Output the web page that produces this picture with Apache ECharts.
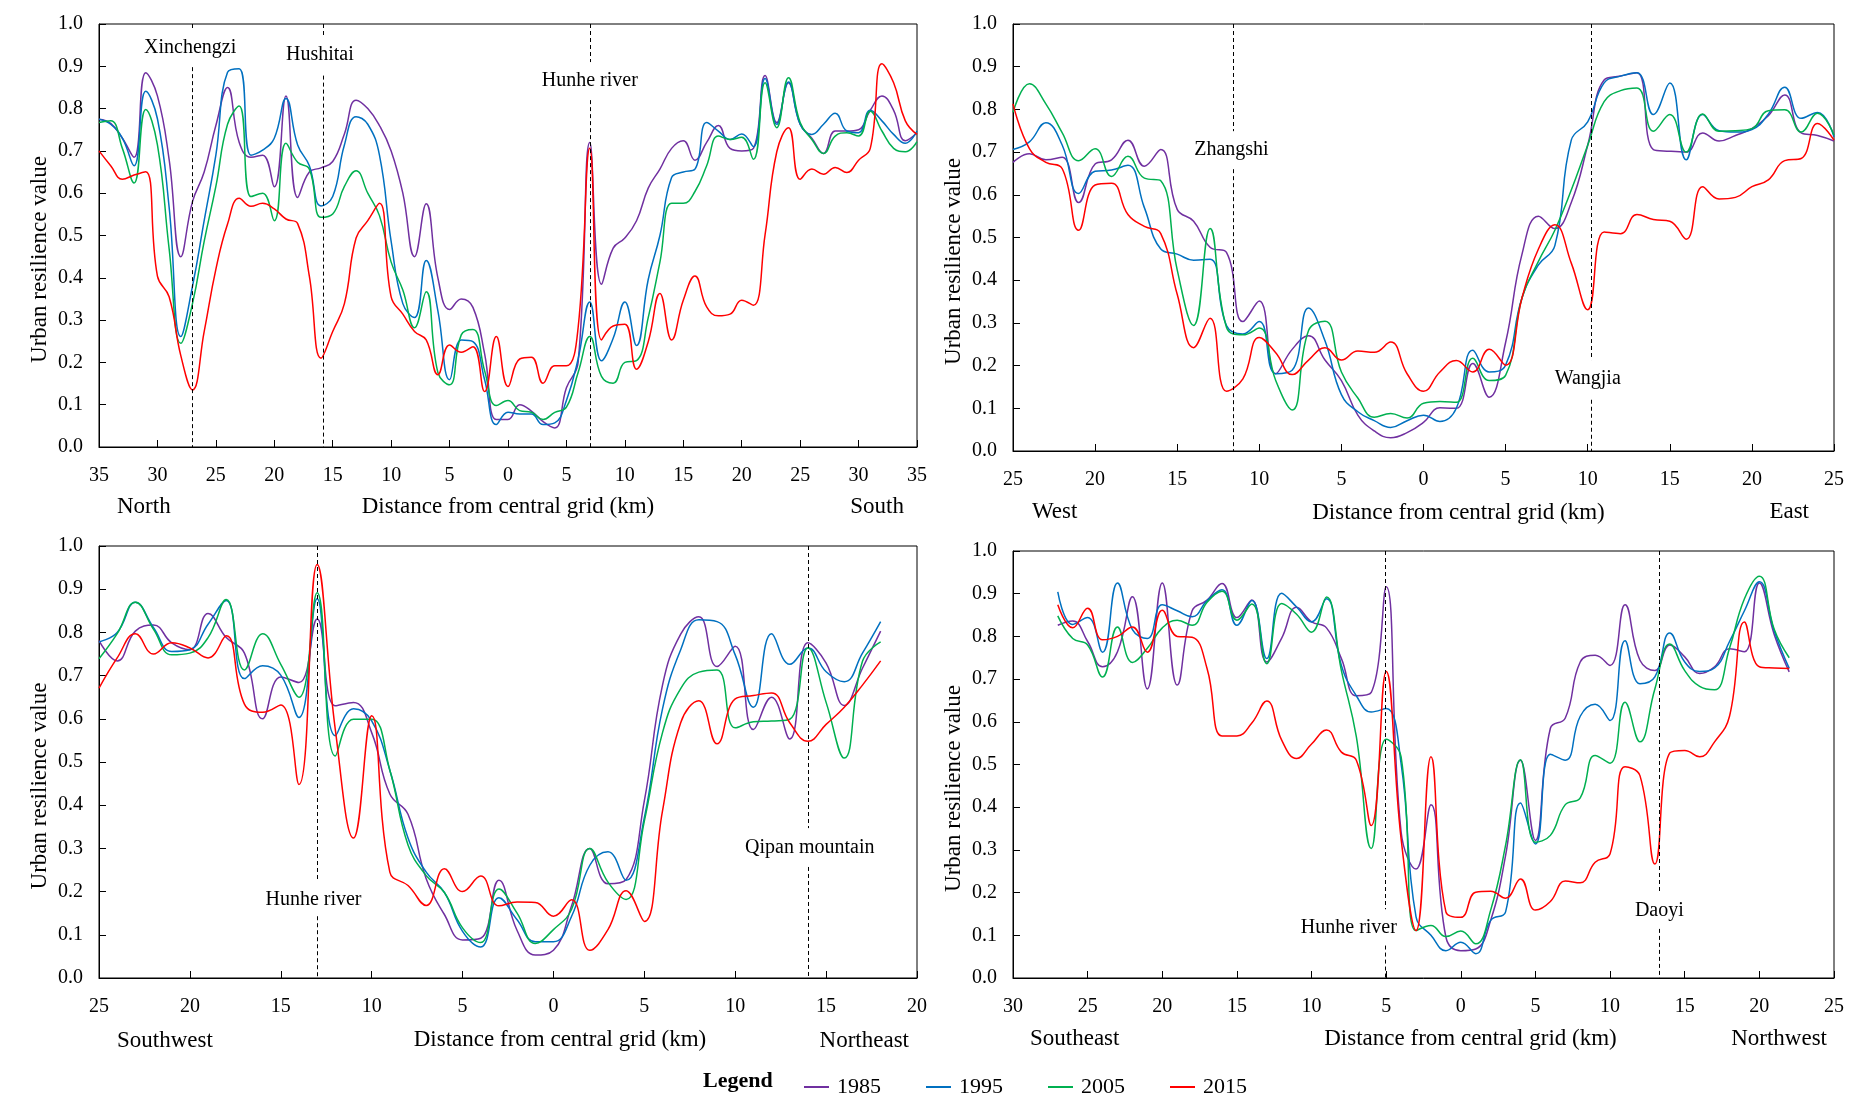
<!DOCTYPE html>
<html>
<head>
<meta charset="utf-8">
<script src="https://cdn.jsdelivr.net/npm/echarts@6/dist/echarts.min.js"></script>
<style>
html,body{margin:0;padding:0;background:#fff;}
#chart{width:1857px;height:1104px;}
</style>
</head>
<body>
<div id="chart"></div>
<script>
// ---------- DATA ----------
const years = ['1985', '1995', '2005', '2015'];

// Panel 1: North - South
const p1Dist = [-35,-34,-33,-32,-31,-30,-29,-28,-27,-26,-25,-24,-23,-22,-21,-20,-19,-18,-17,-16,-15,-14,-13,-12,-11,-10,-9,-8,-7,-6,-5,-4,-3,-2,-1,0,1,2,3,4,5,6,7,8,9,10,11,12,13,14,15,16,17,18,19,20,21,22,23,24,25,26,27,28,29,30,31,32,33,34,35];
const p1_1985 = [0.775,0.765,0.73,0.685,0.885,0.83,0.68,0.45,0.58,0.65,0.76,0.85,0.72,0.685,0.69,0.615,0.83,0.59,0.65,0.66,0.675,0.74,0.82,0.80,0.76,0.70,0.60,0.45,0.575,0.40,0.325,0.35,0.33,0.22,0.065,0.065,0.10,0.085,0.06,0.045,0.14,0.20,0.72,0.385,0.47,0.494,0.535,0.612,0.657,0.706,0.724,0.678,0.72,0.76,0.706,0.70,0.706,0.878,0.767,0.861,0.763,0.73,0.694,0.747,0.747,0.75,0.796,0.83,0.796,0.724,0.743];
const p1_1995 = [0.775,0.763,0.73,0.665,0.841,0.776,0.567,0.261,0.38,0.535,0.69,0.886,0.894,0.69,0.702,0.73,0.824,0.714,0.665,0.57,0.592,0.714,0.781,0.763,0.69,0.486,0.339,0.306,0.441,0.322,0.159,0.253,0.249,0.159,0.053,0.082,0.078,0.078,0.053,0.057,0.11,0.208,0.343,0.204,0.257,0.343,0.24,0.396,0.50,0.637,0.65,0.657,0.767,0.747,0.727,0.74,0.71,0.871,0.763,0.863,0.763,0.739,0.763,0.789,0.747,0.743,0.796,0.771,0.739,0.718,0.747];
const p1_2005 = [0.767,0.771,0.706,0.624,0.798,0.714,0.469,0.245,0.339,0.486,0.616,0.763,0.806,0.592,0.60,0.535,0.718,0.673,0.657,0.543,0.551,0.616,0.653,0.60,0.547,0.437,0.371,0.282,0.367,0.176,0.147,0.265,0.278,0.18,0.098,0.11,0.086,0.082,0.065,0.082,0.094,0.176,0.261,0.167,0.151,0.20,0.204,0.306,0.437,0.576,0.576,0.604,0.665,0.735,0.727,0.732,0.68,0.861,0.755,0.873,0.767,0.727,0.694,0.735,0.743,0.735,0.794,0.747,0.706,0.698,0.722];
const p1_2015 = [0.70,0.665,0.633,0.643,0.651,0.404,0.355,0.216,0.135,0.273,0.42,0.527,0.588,0.569,0.576,0.563,0.539,0.528,0.404,0.21,0.273,0.339,0.494,0.535,0.576,0.355,0.314,0.273,0.253,0.171,0.241,0.224,0.237,0.131,0.261,0.143,0.208,0.212,0.151,0.192,0.192,0.282,0.706,0.253,0.286,0.29,0.184,0.249,0.363,0.253,0.347,0.404,0.331,0.31,0.314,0.347,0.335,0.502,0.698,0.755,0.633,0.657,0.645,0.661,0.649,0.678,0.706,0.906,0.861,0.771,0.739];

// Panel 2: West - East
const p2Dist = [-25,-24,-23,-22,-21,-20,-19,-18,-17,-16,-15,-14,-13,-12,-11,-10,-9,-8,-7,-6,-5,-4,-3,-2,-1,0,1,2,3,4,5,6,7,8,9,10,11,12,13,14,15,16,17,18,19,20,21,22,23,24,25];
const p2_1985 = [0.676,0.696,0.682,0.688,0.582,0.672,0.682,0.728,0.667,0.706,0.566,0.538,0.477,0.465,0.303,0.351,0.181,0.238,0.27,0.213,0.165,0.084,0.047,0.031,0.043,0.067,0.101,0.10,0.205,0.126,0.254,0.461,0.55,0.521,0.582,0.716,0.869,0.878,0.886,0.706,0.702,0.70,0.745,0.726,0.739,0.755,0.785,0.834,0.745,0.739,0.726];
const p2_1995 = [0.706,0.724,0.769,0.716,0.603,0.655,0.658,0.669,0.57,0.473,0.461,0.447,0.449,0.294,0.274,0.303,0.181,0.189,0.335,0.258,0.132,0.092,0.071,0.055,0.071,0.084,0.069,0.10,0.236,0.185,0.201,0.359,0.436,0.481,0.728,0.771,0.862,0.878,0.886,0.788,0.862,0.682,0.788,0.75,0.747,0.753,0.789,0.852,0.779,0.793,0.736];
const p2_2005 = [0.793,0.86,0.813,0.745,0.68,0.708,0.643,0.69,0.639,0.633,0.424,0.294,0.521,0.29,0.272,0.288,0.165,0.096,0.282,0.304,0.185,0.124,0.079,0.088,0.077,0.112,0.116,0.114,0.217,0.165,0.177,0.359,0.444,0.517,0.611,0.716,0.818,0.844,0.85,0.749,0.788,0.70,0.789,0.749,0.75,0.755,0.797,0.799,0.747,0.791,0.74];
const p2_2015 = [0.813,0.708,0.676,0.661,0.517,0.623,0.627,0.554,0.526,0.509,0.367,0.242,0.311,0.14,0.169,0.266,0.23,0.179,0.213,0.242,0.213,0.234,0.231,0.255,0.181,0.14,0.185,0.212,0.185,0.238,0.201,0.359,0.473,0.53,0.44,0.331,0.513,0.509,0.554,0.542,0.538,0.496,0.619,0.59,0.594,0.619,0.635,0.68,0.685,0.767,0.728];

// Panel 3: Southwest - Northeast
const p3Dist = [-25,-24,-23,-22,-21,-20,-19,-18,-17,-16,-15,-14,-13,-12,-11,-10,-9,-8,-7,-6,-5,-4,-3,-2,-1,0,1,2,3,4,5,6,7,8,9,10,11,12,13,14,15,16,17,18];
const p3_1985 = [0.781,0.734,0.803,0.817,0.776,0.76,0.844,0.788,0.752,0.60,0.697,0.684,0.831,0.63,0.638,0.568,0.426,0.379,0.23,0.147,0.088,0.092,0.226,0.11,0.053,0.064,0.167,0.30,0.218,0.228,0.41,0.678,0.796,0.836,0.721,0.768,0.575,0.65,0.553,0.776,0.729,0.631,0.717,0.803];
const p3_1995 = [0.778,0.80,0.87,0.811,0.756,0.76,0.819,0.874,0.693,0.723,0.701,0.603,0.878,0.561,0.623,0.595,0.481,0.324,0.245,0.198,0.108,0.072,0.186,0.135,0.084,0.084,0.143,0.261,0.292,0.226,0.371,0.623,0.76,0.829,0.825,0.748,0.627,0.797,0.726,0.764,0.709,0.686,0.752,0.825];
const p3_2005 = [0.739,0.797,0.87,0.807,0.748,0.752,0.788,0.876,0.713,0.797,0.726,0.65,0.892,0.514,0.599,0.599,0.481,0.308,0.237,0.198,0.116,0.082,0.206,0.15,0.08,0.112,0.159,0.30,0.222,0.182,0.363,0.568,0.67,0.708,0.713,0.579,0.593,0.595,0.599,0.764,0.638,0.509,0.733,0.778];
const p3_2015 = [0.671,0.741,0.797,0.75,0.776,0.764,0.741,0.792,0.634,0.615,0.632,0.448,0.957,0.575,0.324,0.607,0.245,0.214,0.168,0.253,0.20,0.236,0.167,0.176,0.175,0.143,0.181,0.064,0.112,0.202,0.131,0.387,0.591,0.642,0.542,0.646,0.654,0.66,0.591,0.548,0.587,0.627,0.678,0.734];

// Panel 4: Southeast - Northwest
const p4Dist = [-27,-26,-25,-24,-23,-22,-21,-20,-19,-18,-17,-16,-15,-14,-13,-12,-11,-10,-9,-8,-7,-6,-5,-4,-3,-2,-1,0,1,2,3,4,5,6,7,8,9,10,11,12,13,14,15,16,17,18,19,20,21,22];
const p4_1985 = [0.826,0.836,0.788,0.729,0.764,0.893,0.677,0.925,0.686,0.86,0.885,0.924,0.844,0.885,0.74,0.796,0.868,0.834,0.82,0.748,0.661,0.669,0.916,0.342,0.255,0.406,0.096,0.064,0.068,0.135,0.287,0.51,0.322,0.585,0.609,0.74,0.756,0.732,0.874,0.744,0.72,0.78,0.752,0.713,0.729,0.771,0.764,0.925,0.804,0.717];
const p4_1995 = [0.904,0.828,0.844,0.763,0.925,0.816,0.795,0.874,0.86,0.846,0.884,0.909,0.826,0.884,0.748,0.901,0.869,0.834,0.888,0.732,0.661,0.623,0.631,0.502,0.143,0.10,0.064,0.084,0.057,0.135,0.155,0.41,0.314,0.524,0.51,0.613,0.641,0.603,0.79,0.689,0.705,0.808,0.74,0.718,0.726,0.788,0.86,0.928,0.812,0.725];
const p4_2005 = [0.848,0.795,0.78,0.705,0.822,0.739,0.772,0.82,0.838,0.826,0.88,0.906,0.838,0.876,0.736,0.877,0.852,0.81,0.892,0.72,0.565,0.303,0.559,0.518,0.111,0.123,0.097,0.11,0.08,0.159,0.311,0.511,0.318,0.334,0.406,0.422,0.521,0.503,0.646,0.553,0.677,0.782,0.72,0.683,0.675,0.772,0.888,0.941,0.816,0.75];
const p4_2015 = [0.874,0.82,0.866,0.792,0.80,0.822,0.763,0.861,0.80,0.798,0.725,0.567,0.567,0.597,0.649,0.557,0.514,0.548,0.581,0.529,0.51,0.357,0.718,0.326,0.111,0.518,0.155,0.142,0.201,0.203,0.187,0.232,0.159,0.179,0.227,0.223,0.271,0.291,0.495,0.474,0.267,0.527,0.533,0.518,0.553,0.613,0.834,0.729,0.726,0.725];

// Reference places: [name, x of dashed line, top segment end, label y, bottom segment start, label x]
const p1Places = [['Xinchengzi', -27, 0.984, 0.943, 0.898, -27.2], ['Hushitai', -15.8, 0.967, 0.927, 0.878, -16.1], ['Hunhe river', 7.05, 0.91, 0.865, 0.82, 7.0]];
const p2Places = [['Zhangshi', -11.6, 0.749, 0.706, 0.66, -11.7], ['Wangjia', 10.2, 0.213, 0.169, 0.12, 10.0]];
const p3Places = [['Hunhe river', -13, 0.226, 0.182, 0.143, -13.2], ['Qipan mountain', 14, 0.347, 0.302, 0.257, 14.1]];
const p4Places = [['Hunhe river', -5.05, 0.161, 0.118, 0.076, -7.5], ['Daoyi', 13.3, 0.199, 0.158, 0.115, 13.3]];

const xRanges = [[-35, 35], [-25, 25], [-25, 20], [-30, 25]];
const yTicks = [0, 1, 0.1];
const directions = [['North', 'South'], ['West', 'East'], ['Southwest', 'Northeast'], ['Southeast', 'Northwest']];

// ---------- STYLE / LAYOUT ----------
const FONT = 'Liberation Serif';
const colors = {'1985': '#7030A0', '1995': '#0070C0', '2005': '#00B050', '2015': '#FF0000'};
const grids = [
  {left: 99, top: 24, width: 818, height: 423},
  {left: 1013, top: 24, width: 821, height: 427},
  {left: 99, top: 546, width: 818, height: 432},
  {left: 1013, top: 551, width: 821, height: 427}
];
const nameShift = [0, 35, 52, 47];
const nameGaps = [48, 50, 50, 49];

const panels = [
  {dist: p1Dist, vals: [p1_1985, p1_1995, p1_2005, p1_2015], places: p1Places},
  {dist: p2Dist, vals: [p2_1985, p2_1995, p2_2005, p2_2015], places: p2Places},
  {dist: p3Dist, vals: [p3_1985, p3_1995, p3_2005, p3_2015], places: p3Places},
  {dist: p4Dist, vals: [p4_1985, p4_1995, p4_2005, p4_2015], places: p4Places}
];

const chart = echarts.init(document.getElementById('chart'), null, {renderer: 'canvas'});

const gridOpts = grids.map(g => Object.assign({show: true, borderColor: '#000', borderWidth: 1, containLabel: false}, g));

const xAxes = xRanges.map((r, i) => ({
  gridIndex: i, type: 'value', min: r[0], max: r[1], interval: 5,
  axisLine: {show: true, onZero: false, lineStyle: {color: '#000', width: 1}},
  axisTick: {show: true, inside: true, length: 7, lineStyle: {color: '#000'}},
  axisLabel: {formatter: v => String(Math.abs(v)), margin: 19, fontFamily: FONT, fontSize: 20, color: '#000'},
  splitLine: {show: false},
  name: 'Distance from central grid (km)', nameLocation: 'middle', nameGap: nameGaps[i],
  nameTextStyle: {fontFamily: FONT, fontSize: 23, color: '#000', padding: [0, 0, 0, nameShift[i] * 2]}
}));

const yAxes = grids.map((g, i) => ({
  gridIndex: i, type: 'value', min: yTicks[0], max: yTicks[1], interval: yTicks[2],
  axisLine: {show: true, onZero: false, lineStyle: {color: '#000', width: 1}},
  axisTick: {show: true, inside: true, length: 7, lineStyle: {color: '#000'}},
  axisLabel: {formatter: v => v.toFixed(1), margin: 16, fontFamily: FONT, fontSize: 20, color: '#000'},
  splitLine: {show: false},
  name: 'Urban resilience value', nameLocation: 'middle', nameGap: 48,
  nameTextStyle: {fontFamily: FONT, fontSize: 23, color: '#000', padding: [0, 48, 0, 0]}
}));

const series = [];
panels.forEach((p, pi) => {
  years.forEach((y, yi) => {
    series.push({
      type: 'line', name: y, xAxisIndex: pi, yAxisIndex: pi,
      data: p.dist.map((d, k) => [d, p.vals[yi][k]]),
      smooth: 0.45, showSymbol: false, symbol: 'none',
      lineStyle: {width: 1.5, color: colors[y]}, itemStyle: {color: colors[y]},
      animation: false, z: 3
    });
  });
  const segs = [];
  const labels = [];
  p.places.forEach(pl => {
    segs.push([{coord: [pl[1], 1]}, {coord: [pl[1], pl[2]]}]);
    segs.push([{coord: [pl[1], pl[4]]}, {coord: [pl[1], 0]}]);
    labels.push({name: pl[0], coord: [pl[5], pl[3]]});
  });
  series.push({
    type: 'line', name: 'places' + pi, xAxisIndex: pi, yAxisIndex: pi, data: [],
    animation: false, silent: true, z: 4,
    markLine: {silent: true, animation: false, symbol: ['none', 'none'], label: {show: false},
      lineStyle: {type: [4, 3], color: '#000', width: 1}, emphasis: {disabled: true}, data: segs},
    markPoint: {silent: true, animation: false, symbol: 'rect', symbolSize: 1,
      itemStyle: {color: 'rgba(0,0,0,0)'},
      label: {show: true, position: 'inside', formatter: '{b}', color: '#000', fontFamily: FONT, fontSize: 20},
      data: labels}
  });
});

const dirPos = [
  {y: 507, l: 117, r: 1857 - 904},
  {y: 512, l: 1032, r: 1857 - 1809},
  {y: 1041, l: 117, r: 1857 - 909},
  {y: 1039, l: 1030, r: 1857 - 1827}
];
const graphics = [];
directions.forEach((d, i) => {
  graphics.push({type: 'text', left: dirPos[i].l, top: dirPos[i].y - 12,
    style: {text: d[0], font: '23px "' + FONT + '"', fill: '#000'}});
  graphics.push({type: 'text', right: dirPos[i].r, top: dirPos[i].y - 12,
    style: {text: d[1], font: '23px "' + FONT + '"', fill: '#000'}});
});
graphics.push({type: 'text', left: 703, top: 1070,
  style: {text: 'Legend', font: 'bold 22px "' + FONT + '"', fill: '#000'}});

chart.setOption({
  backgroundColor: '#fff',
  animation: false,
  textStyle: {fontFamily: FONT, color: '#000'},
  grid: gridOpts,
  xAxis: xAxes,
  yAxis: yAxes,
  legend: {
    data: years, left: 799, top: 1071, icon: 'rect', itemWidth: 25, itemHeight: 2, itemGap: 45,
    textStyle: {fontFamily: FONT, fontSize: 22, color: '#000', padding: [0, 0, 0, 3]},
    selectedMode: false
  },
  graphic: graphics,
  series: series
});
</script>
</body>
</html>
